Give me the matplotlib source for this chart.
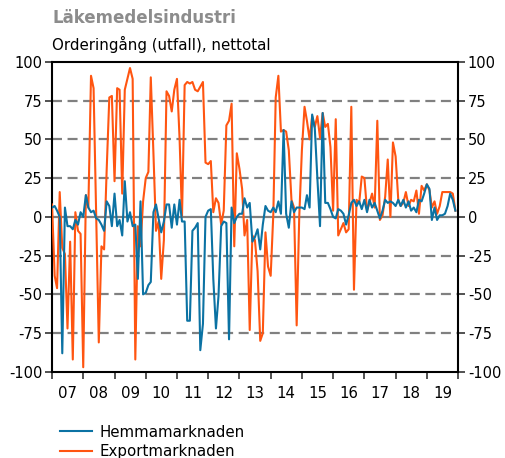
import numpy as np
import pandas as pd
import matplotlib
matplotlib.use("Agg")
import matplotlib.pyplot as plt

plt.rcParams["axes.unicode_minus"] = False

# Orderingång, nettotal per månad 2007-2019
hemma = [
    6, 7, 4, 0, -88, 6, -6, -6, -8, -2, -5, 3,            # 2007
    0, 14, 6, 3, 4, -1, -2, -5, -9, 10, 7, -6,            # 2008
    15, -6, -2, -12, 23, -3, 3, -6, -5, -40, 10, -50,     # 2009
    -49, -44, -42, 3, 8, -1, -10, -3, 8, 8, -7, 8,        # 2010
    -5, 11, -3, -3, -67, -67, -9, -7, -4, -86, -69, 0,    # 2011
    4, 5, -40, -72, -51, -6, -3, -4, -79, 6, -4, 0,       # 2012
    2, 2, 12, 6, 9, -16, -13, -8, -21, -5, 7, 4,          # 2013
    3, 6, 3, 10, 2, 56, 2, -7, 10, 3, 6, 6,               # 2014
    6, 5, 14, 6, 66, 57, 25, -6, 67, 9, 9, 5,             # 2015
    0, -1, 5, 4, 2, -5, 1, 9, 11, 7, 10, 5,               # 2016
    11, 3, 11, 6, 9, 4, -1, 4, 11, 9, 10, 9,              # 2017
    7, 11, 7, 11, 6, 10, 4, 6, 3, 11, 10, 15,             # 2018
    21, 18, -2, 6, -2, 1, 1, 2, 7, 15, 11, 4,             # 2019
]
export = [
    8, -38, -46, 16, -20, -24, -72, -16, -92, 3, -9, -11,      # 2007
    -97, 14, 6, 91, 83, 0, -81, -19, -21, 30, 77, 78,          # 2008
    23, 83, 82, 15, 82, 89, 96, 89, -92, -6, -19, 10,          # 2009
    25, 29, 90, 41, -9, -3, -40, -15, 81, 78, 68, 82,          # 2010
    89, 50, 0, 85, 87, 86, 87, 82, 81, 84, 87, 35,             # 2011
    34, 36, 3, 12, 9, -5, 4, 59, 62, 73, -19, 41,              # 2012
    31, 18, -12, -2, -73, -12, -15, -35, -80, -75, -10, -32,   # 2013
    -38, 2, 77, 91, 55, 56, 55, 43, 11, 6, -70, 0,             # 2014
    43, 71, 62, 50, 65, 58, 65, 51, 67, 58, 60, 45,            # 2015
    4, 63, -12, -8, -4, -10, -8, 71, -47, 11, 9, 26,           # 2016
    25, 4, 9, 15, 6, 62, -2, 1, 13, 37, 0, 48,                 # 2017
    39, 11, 7, 9, 16, 7, 11, 10, 17, 2, 20, 17,                # 2018
    21, 17, 6, 10, 2, 7, 16, 16, 16, 16, 15, 4,                # 2019
]
years = list(range(2007, 2020))
year_labels = [f"{y % 100:02d}" for y in years]
yticks = [-100, -75, -50, -25, 0, 25, 50, 75, 100]

dates = pd.date_range("2007-01-01", periods=len(hemma), freq="MS")

blue = "#0b72a3"
orange = "#ff5511"
fs = 10.8

fig = plt.figure(figsize=(5.05, 4.58), dpi=100)
ax = fig.add_axes([0.103, 0.188, 0.804, 0.677])

for v in yticks[1:-1]:
    if v == 0:
        ax.axhline(0, color="#808080", lw=1.6, zorder=1)
    else:
        ax.axhline(v, color="#808080", lw=1.6, ls=(0, (4.5, 2.5)), zorder=1)

ax.plot(dates, export, color=orange, lw=1.5, label="Exportmarknaden", zorder=3)
ax.plot(dates, hemma, color=blue, lw=1.5, label="Hemmamarknaden", zorder=4)

ax.set_ylim(-100, 100)
ax.set_yticks(yticks)
ax.set_xlim(pd.Timestamp("2007-01-01"), pd.Timestamp("2020-01-01"))

# year boundaries as ticks, labels centred in each year
ax.set_xticks([pd.Timestamp(f"{y}-01-01") for y in years + [2020]])
ax.set_xticklabels([])
ax.set_xticks([pd.Timestamp(f"{y}-07-02") for y in years], minor=True)
ax.set_xticklabels(year_labels, minor=True)
ax.tick_params(axis="x", which="major", direction="out", length=5, width=1.2, color="#333333")
ax.tick_params(axis="x", which="minor", length=0, pad=10, labelsize=fs)
ax.tick_params(axis="y", direction="out", length=5, width=1.2, color="#333333",
               labelsize=10.5, right=True, labelright=True, pad=2)

for s in ax.spines.values():
    s.set_linewidth(1.5)
    s.set_color("black")

fig.text(0.103, 0.96, "Läkemedelsindustri", fontsize=12, fontweight="bold",
         color="#8c8c8c", ha="left", va="center")
fig.text(0.103, 0.902, "Orderingång (utfall), nettotal", fontsize=fs,
         color="black", ha="left", va="center")

handles, labels = ax.get_legend_handles_labels()
fig.legend(handles[::-1], labels[::-1], loc="upper left", bbox_to_anchor=(0.119, 0.073),
           frameon=False, fontsize=fs, handlelength=2.1, handletextpad=0.5,
           labelspacing=0.3, borderpad=0, borderaxespad=0)

fig.savefig("out.png", dpi=100)
